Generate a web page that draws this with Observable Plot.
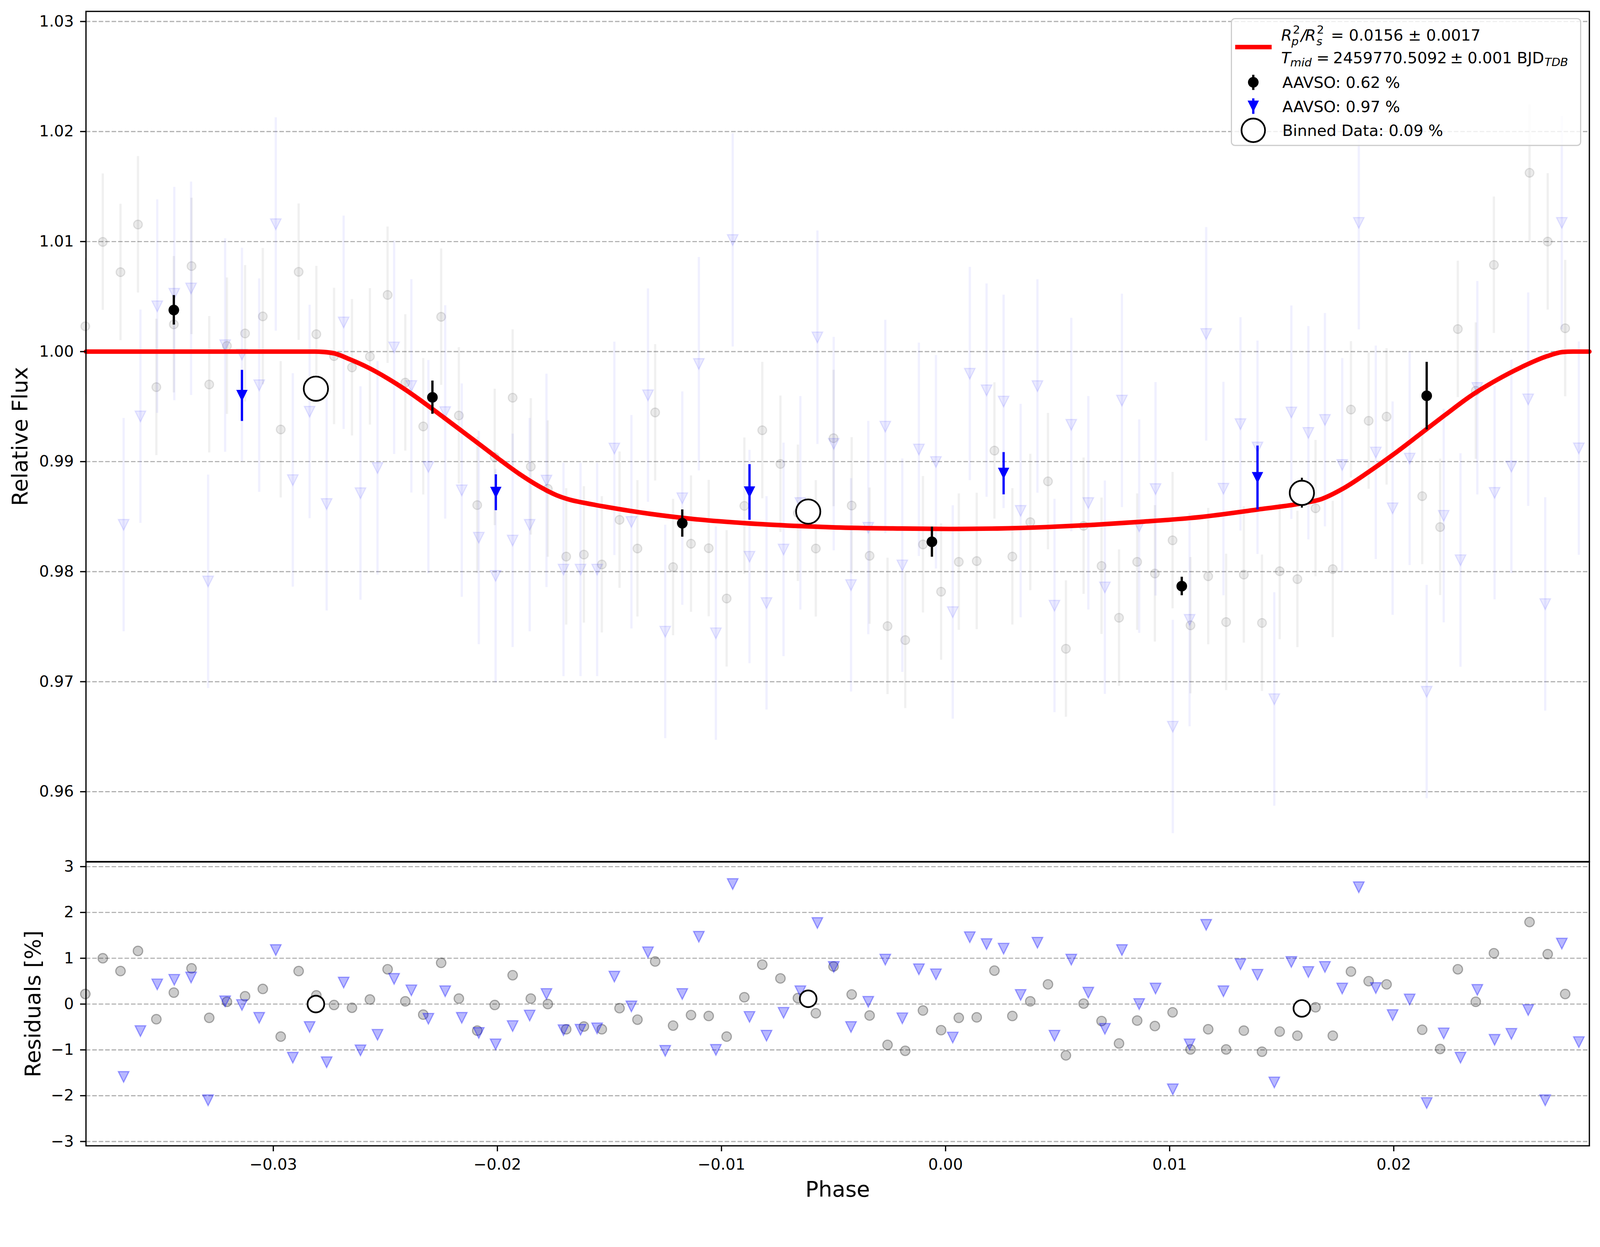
<!DOCTYPE html>
<html><head><meta charset="utf-8">
<script src="https://cdn.jsdelivr.net/npm/d3@7"></script>
<script src="https://cdn.jsdelivr.net/npm/@observablehq/plot@0.6"></script>
<style>
html,body{margin:0;padding:0;background:#fff;overflow:hidden;}
#fig{position:absolute;left:0;top:0;width:4215px;height:3192px;background:#fff;overflow:hidden;transform-origin:0 0;}
#fig svg{position:absolute;left:0;max-width:none;overflow:visible;}
</style></head><body><div id="fig"></div>
<script>
// ---------------- data ----------------
const greyPhase = [-0.03839,-0.03761,-0.03682,-0.03604,-0.03522,-0.03444,-0.03365,-0.03286,-0.03207,-0.03126,-0.03047,-0.02967,-0.02887,-0.02808,-0.02729,-0.02649,-0.02569,-0.02490,-0.02411,-0.02331,-0.02251,-0.02172,-0.02090,-0.02012,-0.01932,-0.01851,-0.01775,-0.01693,-0.01614,-0.01534,-0.01455,-0.01375,-0.01296,-0.01216,-0.01136,-0.01057,-0.00977,-0.00898,-0.00818,-0.00737,-0.00659,-0.00579,-0.00500,-0.00419,-0.00339,-0.00259,-0.00180,-0.00101,-0.00020,0.00059,0.00139,0.00218,0.00298,0.00378,0.00457,0.00537,0.00616,0.00696,0.00774,0.00855,0.00934,0.01013,0.01093,0.01172,0.01252,0.01331,0.01412,0.01491,0.01570,0.01651,0.01728,0.01809,0.01888,0.01968,0.02127,0.02207,0.02286,0.02366,0.02447,0.02606,0.02687,0.02765];
const greyFlux = [1.0023,1.00997,1.00722,1.01155,0.99677,1.00247,1.00777,0.99701,1.00052,1.00165,1.0032,0.99292,1.00725,1.00158,0.99959,0.99856,0.99955,1.00515,0.99718,0.9932,1.00316,0.99419,0.98605,0.99041,0.99581,0.98955,0.98753,0.98137,0.98155,0.98065,0.98471,0.9821,0.99447,0.98041,0.98254,0.98213,0.97756,0.98598,0.99285,0.98979,0.98533,0.9821,0.99213,0.98601,0.98144,0.97505,0.97378,0.98247,0.97818,0.98089,0.98096,0.991,0.98137,0.9845,0.98821,0.97299,0.98416,0.98052,0.97581,0.98089,0.97983,0.98285,0.97512,0.97958,0.97542,0.97973,0.97534,0.98004,0.97932,0.98576,0.98023,0.99473,0.99371,0.99409,0.98686,0.98405,1.00205,0.99644,1.00788,1.01625,1.01,1.00212];
const greyRes = [0.22,1.00,0.72,1.16,-0.33,0.25,0.78,-0.30,0.05,0.17,0.33,-0.71,0.72,0.19,-0.02,-0.08,0.10,0.76,0.06,-0.23,0.90,0.12,-0.58,-0.02,0.63,0.12,0.00,-0.55,-0.49,-0.55,-0.09,-0.34,0.93,-0.47,-0.24,-0.26,-0.71,0.15,0.86,0.56,0.13,-0.20,0.82,0.21,-0.25,-0.89,-1.02,-0.14,-0.57,-0.30,-0.29,0.73,-0.26,0.06,0.43,-1.12,0.01,-0.37,-0.86,-0.36,-0.48,-0.18,-0.99,-0.55,-0.99,-0.58,-1.04,-0.60,-0.69,-0.07,-0.69,0.71,0.50,0.43,-0.56,-0.98,0.76,0.05,1.11,1.79,1.09,0.22];
const greyErr = 0.0062;

const bluePhase = [-0.03668,-0.03593,-0.03518,-0.03442,-0.03367,-0.03291,-0.03215,-0.03140,-0.03063,-0.02989,-0.02913,-0.02838,-0.02762,-0.02686,-0.02611,-0.02535,-0.02461,-0.02384,-0.02308,-0.02233,-0.02159,-0.02083,-0.02008,-0.01932,-0.01856,-0.01781,-0.01705,-0.01629,-0.01555,-0.01478,-0.01402,-0.01328,-0.01251,-0.01175,-0.01101,-0.01025,-0.00950,-0.00875,-0.00799,-0.00723,-0.00648,-0.00572,-0.00499,-0.00422,-0.00345,-0.00269,-0.00193,-0.00119,-0.00043,0.00032,0.00108,0.00183,0.00259,0.00335,0.00410,0.00486,0.00561,0.00637,0.00711,0.00787,0.00864,0.00937,0.01014,0.01089,0.01163,0.01240,0.01316,0.01392,0.01467,0.01543,0.01619,0.01693,0.01770,0.01844,0.01920,0.01995,0.02071,0.02147,0.02223,0.02298,0.02373,0.02450,0.02525,0.02600,0.02676,0.02750,0.02826];
const blueFlux = [0.98426,0.99411,1.00412,1.00526,1.00574,0.97911,1.00058,0.99973,0.99694,1.01158,0.98832,0.99454,0.98615,1.00265,0.98713,0.98942,1.00038,0.99687,0.98952,0.9945,0.98739,0.98309,0.97962,0.98283,0.98426,0.98828,0.98019,0.98019,0.98019,0.99119,0.98452,0.99603,0.97455,0.98667,0.99888,0.9744,1.01014,0.98136,0.97715,0.98201,0.98624,1.00129,0.99162,0.97878,0.98399,0.99318,0.98057,0.9911,0.98997,0.97632,0.99799,0.99648,0.99546,0.98553,0.99686,0.97691,0.99335,0.98624,0.97857,0.99555,0.98412,0.98751,0.96591,0.97562,1.0016,0.98754,0.99341,0.99129,0.96841,0.99447,0.99261,0.99379,0.9897,1.0117,0.99083,0.98576,0.99028,0.96909,0.98508,0.98104,0.9967,0.98716,0.98955,0.99566,0.97705,1.0117,0.99121];
const blueRes = [-1.59,-0.59,0.43,0.53,0.58,-2.10,0.06,-0.02,-0.30,1.18,-1.17,-0.50,-1.27,0.47,-1.01,-0.67,0.55,0.30,-0.32,0.28,-0.30,-0.63,-0.88,-0.48,-0.25,0.22,-0.57,-0.56,-0.53,0.60,-0.05,1.13,-1.02,0.22,1.47,-1.00,2.62,-0.28,-0.69,-0.19,0.28,1.77,0.81,-0.50,0.05,0.97,-0.31,0.76,0.65,-0.73,1.46,1.31,1.21,0.20,1.34,-0.69,0.97,0.25,-0.54,1.18,0.00,0.34,-1.86,-0.88,1.73,0.28,0.87,0.64,-1.71,0.92,0.70,0.81,0.34,2.55,0.35,-0.24,0.10,-2.16,-0.64,-1.17,0.31,-0.78,-0.65,-0.13,-2.10,1.32,-0.83];
const blueErr = 0.0097;

const blackBinPhase = [-0.03444,-0.02290,-0.01175,-0.00061,0.01054,0.02147];
const blackBinFlux = [1.00378,0.99584,0.9844,0.98271,0.97868,0.99598];
const blackBinErr = [0.00134,0.00151,0.00124,0.00137,0.00084,0.00307];

const blueBinPhase = [-0.03140,-0.02007,-0.00875,0.00259,0.01392];
const blueBinFlux = [0.99600,0.98720,0.98723,0.98893,0.98854];
const blueBinErr = [0.00232,0.00163,0.00253,0.00192,0.0029];

const binnedPhase = [-0.02810,-0.00613,0.01590];
const binnedFlux = [0.99663,0.98546,0.98716];
const binnedErr = [0.0008,0.0008,0.00136];
const binnedRes = [0.00,0.115,-0.095];

const modelPhase = [-0.03836,-0.0300,-0.02815,-0.02777,-0.02726,-0.0266,-0.02576,-0.02491,-0.02407,-0.02323,-0.02239,-0.02154,-0.0207,-0.01986,-0.01902,-0.01817,-0.01733,-0.01674,-0.01607,-0.01507,-0.01321,-0.01104,-0.00889,-0.00672,-0.00491,-0.00202,0.00015,0.00231,0.00447,0.00663,0.00879,0.01135,0.0139,0.0159,0.01676,0.01773,0.01887,0.02,0.02115,0.02229,0.02342,0.02457,0.02571,0.02684,0.02753,0.02800,0.02873];
const modelFlux = [1,1,1,0.99997,0.99983,0.99931,0.99854,0.99758,0.99649,0.99528,0.99401,0.99271,0.99142,0.99012,0.98888,0.98779,0.98692,0.98652,0.98623,0.98586,0.98526,0.98474,0.9844,0.98416,0.98402,0.98392,0.98388,0.98392,0.98405,0.98426,0.98454,0.98496,0.98564,0.98621,0.98659,0.98754,0.98905,0.99068,0.99246,0.99424,0.99595,0.99739,0.9986,0.99958,0.99996,1,1];

const fluxTicks = [0.96,0.97,0.98,0.99,1.00,1.01,1.02,1.03];
const resTicks = [-3,-2,-1,0,1,2,3];
const phaseTicks = [-0.03,-0.02,-0.01,0.00,0.01,0.02];
const xLabel = "Phase", yLabelMain = "Relative Flux", yLabelRes = "Residuals [%]";
const legendLabels = ["AAVSO: 0.62 %","AAVSO: 0.97 %","Binned Data: 0.09 %"];

// ---------------- tables ----------------
const grey = greyPhase.map((p,i)=>({phase:p, flux:greyFlux[i], res:greyRes[i]}));
const blue = bluePhase.map((p,i)=>({phase:p, flux:blueFlux[i], res:blueRes[i]}));
const blackBin = blackBinPhase.map((p,i)=>({phase:p, flux:blackBinFlux[i], err:blackBinErr[i]}));
const blueBin = blueBinPhase.map((p,i)=>({phase:p, flux:blueBinFlux[i], err:blueBinErr[i]}));
const binned = binnedPhase.map((p,i)=>({phase:p, flux:binnedFlux[i], err:binnedErr[i], res:binnedRes[i]}));
const model = modelPhase.map((p,i)=>({phase:p, flux:modelFlux[i]}));

const FONT = "DejaVu Sans";
const xDomain = [-0.03836, 0.02873];
const fmt2 = d3.format(".2f");
const fmtInt = d3.format("d");
const triDown = {draw(ctx, size){ const s = Math.sqrt(size/Math.PI); ctx.moveTo(0, s); ctx.lineTo(s, -s); ctx.lineTo(-s, -s); ctx.closePath(); }};
const gridStyle = {stroke:"#b0b0b0", strokeOpacity:1, strokeWidth:3, strokeDasharray:"12,5"};

const main = Plot.plot({
  width: 4215, height: 2280,
  marginTop: 29.5, marginBottom: 11, marginLeft: 226, marginRight: 28.5,
  style: {fontFamily: FONT, fontSize: "41px", background: "transparent", color: "black"},
  x: {domain: xDomain, axis: null},
  y: {domain: [0.95365, 1.03092], axis: null},
  marks: [
    Plot.gridY(fluxTicks, gridStyle),
    Plot.ruleX(grey, {x:"phase", y1:d=>d.flux-greyErr, y2:d=>d.flux+greyErr, stroke:"black", strokeOpacity:0.06, strokeWidth:6}),
    Plot.dot(grey, {x:"phase", y:"flux", r:11.5, fill:"black", fillOpacity:0.08, stroke:"black", strokeOpacity:0.1, strokeWidth:3}),
    Plot.ruleX(blue, {x:"phase", y1:d=>d.flux-blueErr, y2:d=>d.flux+blueErr, stroke:"blue", strokeOpacity:0.06, strokeWidth:6}),
    Plot.dot(blue, {x:"phase", y:"flux", r:14, symbol:triDown, fill:"blue", fillOpacity:0.08, stroke:"blue", strokeOpacity:0.1, strokeWidth:3}),
    Plot.line(model, {x:"phase", y:"flux", stroke:"red", strokeWidth:12, curve:"monotone-x"}),
    Plot.ruleX(blackBin, {x:"phase", y1:d=>d.flux-d.err, y2:d=>d.flux+d.err, stroke:"black", strokeWidth:6}),
    Plot.dot(blackBin, {x:"phase", y:"flux", r:14, fill:"black"}),
    Plot.ruleX(blueBin, {x:"phase", y1:d=>d.flux-d.err, y2:d=>d.flux+d.err, stroke:"blue", strokeWidth:6}),
    Plot.dot(blueBin, {x:"phase", y:"flux", r:15, symbol:triDown, fill:"blue"}),
    Plot.ruleX(binned, {x:"phase", y1:d=>d.flux-d.err, y2:d=>d.flux+d.err, stroke:"black", strokeWidth:5}),
    Plot.dot(binned, {x:"phase", y:"flux", r:32, fill:"white", stroke:"black", strokeWidth:4.5}),
    Plot.axisY(fluxTicks, {tickFormat: fmt2, tickSize:15, tickPadding:17, fontSize:41, strokeWidth:3.3, label:null}),
    Plot.frame({stroke:"black", strokeWidth:3.3}),
    Plot.text([yLabelMain], {text:d=>d, frameAnchor:"left", dx:-173, rotate:-90, fontSize:57, textAnchor:"middle", lineAnchor:"middle"})
  ]
});

const resid = Plot.plot({
  width: 4215, height: 992,
  marginTop: 70, marginBottom: 174.3, marginLeft: 226, marginRight: 28.5,
  style: {fontFamily: FONT, fontSize: "41px", background: "transparent", color: "black"},
  x: {domain: xDomain, axis: null},
  y: {domain: [-3.094, 3.102], axis: null},
  marks: [
    Plot.gridY(resTicks, gridStyle),
    Plot.dot(grey, {x:"phase", y:"res", r:12.5, fill:"black", fillOpacity:0.2, stroke:"black", strokeOpacity:0.3, strokeWidth:3}),
    Plot.dot(blue, {x:"phase", y:"res", r:14, symbol:triDown, fill:"blue", fillOpacity:0.28, stroke:"blue", strokeOpacity:0.35, strokeWidth:3}),
    Plot.dot(binned, {x:"phase", y:"res", r:22, fill:"white", stroke:"black", strokeWidth:4.5}),
    Plot.axisY(resTicks, {tickFormat: fmtInt, tickSize:15, tickPadding:17, fontSize:41, strokeWidth:3.3, label:null}),
    Plot.axisX(phaseTicks, {tickFormat: fmt2, tickSize:15, tickPadding:19, fontSize:41, strokeWidth:3.3, label:null}),
    Plot.frame({stroke:"black", strokeWidth:3.3}),
    Plot.text([yLabelRes], {text:d=>d, frameAnchor:"left", dx:-139, rotate:-90, fontSize:57, textAnchor:"middle", lineAnchor:"middle"}),
    Plot.text([xLabel], {text:d=>d, frameAnchor:"bottom", dy:134.3, fontSize:57, textAnchor:"middle", lineAnchor:"bottom"})
  ]
});

main.style.top = "0px";
resid.style.top = "2200px";
const fig = document.getElementById("fig");
fig.appendChild(main);
fig.appendChild(resid);

// ---------------- legend (inside main svg) ----------------
const lg = d3.select(main).append("g").attr("font-family", FONT).attr("fill", "black").attr("text-anchor", "start");
lg.append("rect").attr("x",3244).attr("y",49).attr("width",920).attr("height",334).attr("rx",9)
  .attr("fill","white").attr("fill-opacity",0.8).attr("stroke","#cccccc").attr("stroke-width",3);
lg.append("line").attr("x1",3254).attr("x2",3350).attr("y1",124).attr("y2",124).attr("stroke","red").attr("stroke-width",12);

function richText(pieces){
  const e = lg.append("text").attr("font-size",41).attr("text-anchor","start");
  for (const p of pieces) {
    const s = e.append("tspan").attr("x",p.x).attr("y",p.y).text(p.s);
    if (p.size) s.attr("font-size",p.size);
    if (p.it) s.attr("font-style","italic");
  }
  return e;
}
// R_p^2 / R_s^2 = 0.0156 ± 0.0017
richText([
  {x:3375,y:107,s:"R",it:true},
  {x:3406,y:89,s:"2",size:30},
  {x:3402,y:119,s:"p",size:30,it:true},
  {x:3427,y:107,s:"/",it:true},
  {x:3438,y:107,s:"R",it:true},
  {x:3469,y:89,s:"2",size:30},
  {x:3468,y:119,s:"s",size:30,it:true},
  {x:3506,y:107,s:"= 0.0156 ± 0.0017"}
]);
// T_mid = 2459770.5092 ± 0.001 BJD_TDB
richText([
  {x:3375,y:167,s:"T",it:true},
  {x:3399,y:175,s:"mid",size:30,it:true},
  {x:3468,y:167,s:"="},
  {x:3512,y:167,s:"2459770.5092"},
  {x:3820,y:167,s:"±"},
  {x:3866,y:167,s:"0.001"},
  {x:3996,y:167,s:"BJD"},
  {x:4069,y:174,s:"TDB",size:30,it:true}
]);
// markers
const mx = 3301.6;
lg.append("line").attr("x1",mx).attr("x2",mx).attr("y1",197).attr("y2",237).attr("stroke","black").attr("stroke-width",6);
lg.append("circle").attr("cx",mx).attr("cy",216.7).attr("r",14).attr("fill","black");
lg.append("line").attr("x1",mx).attr("x2",mx).attr("y1",259).attr("y2",300).attr("stroke","blue").attr("stroke-width",6);
lg.append("path").attr("d",`M${mx},${280+15}L${mx+15},${280-15}L${mx-15},${280-15}Z`).attr("fill","blue");
lg.append("circle").attr("cx",mx).attr("cy",343.3).attr("r",31).attr("fill","white").attr("stroke","black").attr("stroke-width",4.5);
[[231.7,0],[295,1],[358,2]].forEach(([y,i]) =>
  lg.append("text").attr("x",3378).attr("y",y).attr("font-size",41).attr("text-anchor","start").text(legendLabels[i]));

// fit the 4215x3192 figure into the actual viewport
function fit(){
  const w = document.documentElement.clientWidth || window.innerWidth;
  const h = document.documentElement.clientHeight || window.innerHeight;
  const s = Math.min(w / 4215, h / 3192);
  fig.style.transform = `scale(${s})`;
}
fit();
window.addEventListener("resize", fit);
</script></body></html>
